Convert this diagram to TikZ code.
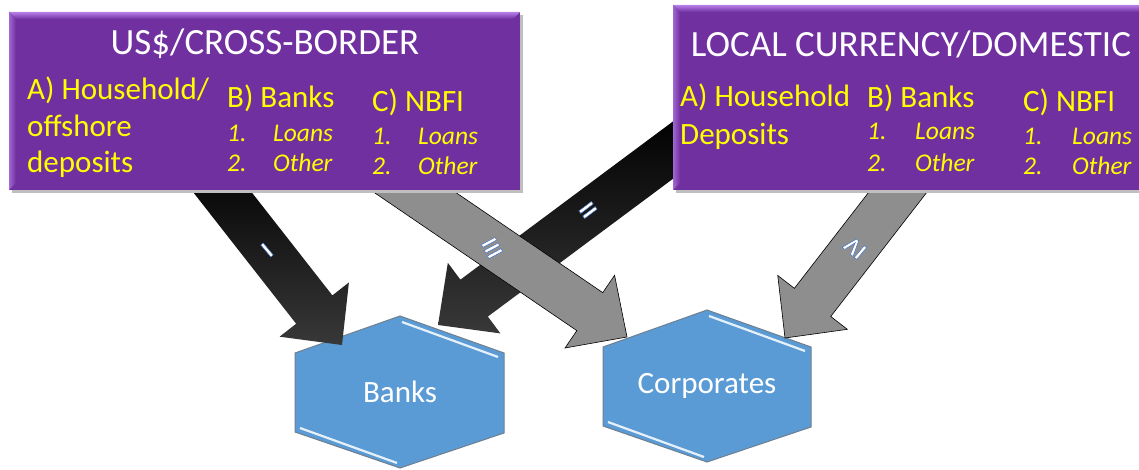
\documentclass[tikz,border=0pt]{standalone}
\usepackage{fontspec}
\setmainfont{Carlito}
\usetikzlibrary{calc}

\definecolor{boxpurple}{HTML}{7030A0}
\definecolor{boxlight}{HTML}{B77FE8}
\definecolor{txtyellow}{HTML}{FFFF00}
\definecolor{hexblue}{HTML}{5B9BD5}
\definecolor{hexedge}{HTML}{6E7F90}
\definecolor{arrowgray}{HTML}{8E8E8E}

% white text with a blue outline (fill + stroke render mode)
\newcommand{\outlined}[1]{\special{pdf:code q 2 Tr 0.27 0.45 0.77 RG 0.5 w}#1\special{pdf:code 0 Tr Q}}

\tikzset{
	boxtitle/.style={anchor=base, text=white, inner sep=0pt, font=\fontsize{37}{42}\selectfont},
	boxhead/.style={anchor=base west, text=txtyellow, inner sep=0pt, font=\fontsize{31}{36}\selectfont},
	boxitem/.style={anchor=base west, text=txtyellow, inner sep=0pt, font=\fontsize{25.5}{30}\selectfont\itshape},
	hexlabel/.style={text=white, font=\fontsize{31}{36}\selectfont},
	numeral/.style={text=white, inner sep=0pt, font=\fontsize{24}{26}\selectfont\bfseries},
	blackarrow/.style={top color=black, bottom color=black!78},
	grayarrow/.style={fill=arrowgray, draw=black, line width=0.6pt},
	hexshape/.style={fill=hexblue, draw=hexedge, line width=1pt},
	hexshine/.style={draw=white!85!hexblue, line width=2.2pt},
}

% block arrow: style, tail, tip
\newcommand{\blockarrow}[3]{%
	\path[#1] let \p1=($(#3)-(#2)$), \n1={atan2(\y1,\x1)}, \n2={veclen(\x1,\y1)-45} in
		($(#2)+(\n1+90:23pt)$) -- ($(#2)+(\n1:\n2)+(\n1+90:23pt)$) -- ($(#2)+(\n1:\n2)+(\n1+90:44pt)$) -- (#3)
		-- ($(#2)+(\n1:\n2)+(\n1-90:44pt)$) -- ($(#2)+(\n1:\n2)+(\n1-90:23pt)$) -- ($(#2)+(\n1-90:23pt)$) -- cycle;}

% purple box with bevel: x0, y0, x1, y1
\newcommand{\bevelbox}[4]{%
	\fill[black!25] (#1+3,#2+3) rectangle (#3+3,#4+3);
	\fill[boxpurple] (#1,#2) rectangle (#3,#4);
	\shade[top color=boxlight, bottom color=boxpurple] (#1,#2) -- (#3,#2) -- (#3-7,#2+7) -- (#1+7,#2+7) -- cycle;
	\shade[left color=boxlight!70!boxpurple, right color=boxpurple] (#1,#2) -- (#1+7,#2+7) -- (#1+7,#4-7) -- (#1,#4) -- cycle;}

\begin{document}
\begin{tikzpicture}[x=1pt,y=-1pt]
	\useasboundingbox[fill=white] (0,0) rectangle (1139,470);
	\clip (0,0) rectangle (1139,470);

	% hexagons
	\node[hexlabel] (banks) at (400,392) {};
	\node[hexlabel] (corp) at (707,386) {};
	\draw[hexshape] ($(banks)+(0,-76)$) -- ($(banks)+(104,-39)$) -- ($(banks)+(104,41)$) -- ($(banks)+(0,76)$) -- ($(banks)+(-105,40)$) -- ($(banks)+(-105,-39)$) -- cycle;
	\draw[hexshape] ($(corp)+(0,-76)$) -- ($(corp)+(104,-39)$) -- ($(corp)+(104,41)$) -- ($(corp)+(0,76)$) -- ($(corp)+(-104,40)$) -- ($(corp)+(-104,-39)$) -- cycle;
	\draw[hexshine] ($(banks)+(2,-70)$) -- ($(banks)+(98,-35)$);
	\draw[hexshine] ($(banks)+(-100,36)$) -- ($(banks)+(-3,71)$);
	\draw[hexshine] ($(corp)+(2,-70)$) -- ($(corp)+(98,-35)$);
	\draw[hexshine] ($(corp)+(-99,36)$) -- ($(corp)+(-3,71)$);
	\node[hexlabel] at (banks) {Banks};
	\node[hexlabel] at (corp) {Corporates};

	% arrow ends
	\coordinate (t1) at (205,170);
	\coordinate (p1) at (342,345);
	\coordinate (t2) at (700,130);
	\coordinate (p2) at (438,325);
	\coordinate (t3) at (382,170);
	\coordinate (p3) at (627,337);
	\coordinate (t4) at (915,170);
	\coordinate (p4) at (785,338);

	\blockarrow{blackarrow}{t2}{p2}
	\blockarrow{blackarrow}{t1}{p1}
	\blockarrow{grayarrow}{t4}{p4}
	\blockarrow{grayarrow}{t3}{p3}

	\node[numeral, rotate=-140] (n1) at (267,250) {\outlined{I}};
	\node[numeral, rotate=-53] (n2) at (588,210) {\outlined{II}};
	\node[numeral, rotate=-62] (n3) at (492,248) {\outlined{III}};
	\node[numeral, rotate=140] (n4) at (855,248) {\outlined{IV}};

	% boxes
	\bevelbox{9}{12}{520}{190}
	\bevelbox{673}{5}{1150}{190}

	% US$ box
	\node[boxtitle] (usttl) at (265,55) {US\$/CROSS-BORDER};
	\node[boxhead] (usA1) at (27,100) {A) Household/};
	\node[boxhead] (usA2) at (27,137) {offshore};
	\node[boxhead] (usA3) at (27,173) {deposits};
	\node[boxhead] (usB) at (227,108) {B) Banks};
	\node[boxitem] (usB1n) at (227,142) {1.};
	\node[boxitem] (usB1) at (273,142) {Loans};
	\node[boxitem] (usB2n) at (227,172) {2.};
	\node[boxitem] (usB2) at (273,172) {Other};
	\node[boxhead] (usC) at (372,112) {C) NBFI};
	\node[boxitem] (usC1n) at (372,145) {1.};
	\node[boxitem] (usC1) at (418,145) {Loans};
	\node[boxitem] (usC2n) at (372,175) {2.};
	\node[boxitem] (usC2) at (418,175) {Other};

	% local box
	\node[boxtitle] (lcttl) at (911,57) {LOCAL CURRENCY/DOMESTIC};
	\node[boxhead] (lcA1) at (680,107) {A) Household};
	\node[boxhead] (lcA2) at (680,145) {Deposits};
	\node[boxhead] (lcB) at (867,108) {B) Banks};
	\node[boxitem] (lcB1n) at (867,140) {1.};
	\node[boxitem] (lcB1) at (915,140) {Loans};
	\node[boxitem] (lcB2n) at (867,172) {2.};
	\node[boxitem] (lcB2) at (915,172) {Other};
	\node[boxhead] (lcC) at (1023,112) {C) NBFI};
	\node[boxitem] (lcC1n) at (1023,145) {1.};
	\node[boxitem] (lcC1) at (1072,145) {Loans};
	\node[boxitem] (lcC2n) at (1023,175) {2.};
	\node[boxitem] (lcC2) at (1072,175) {Other};
\end{tikzpicture}
\end{document}
